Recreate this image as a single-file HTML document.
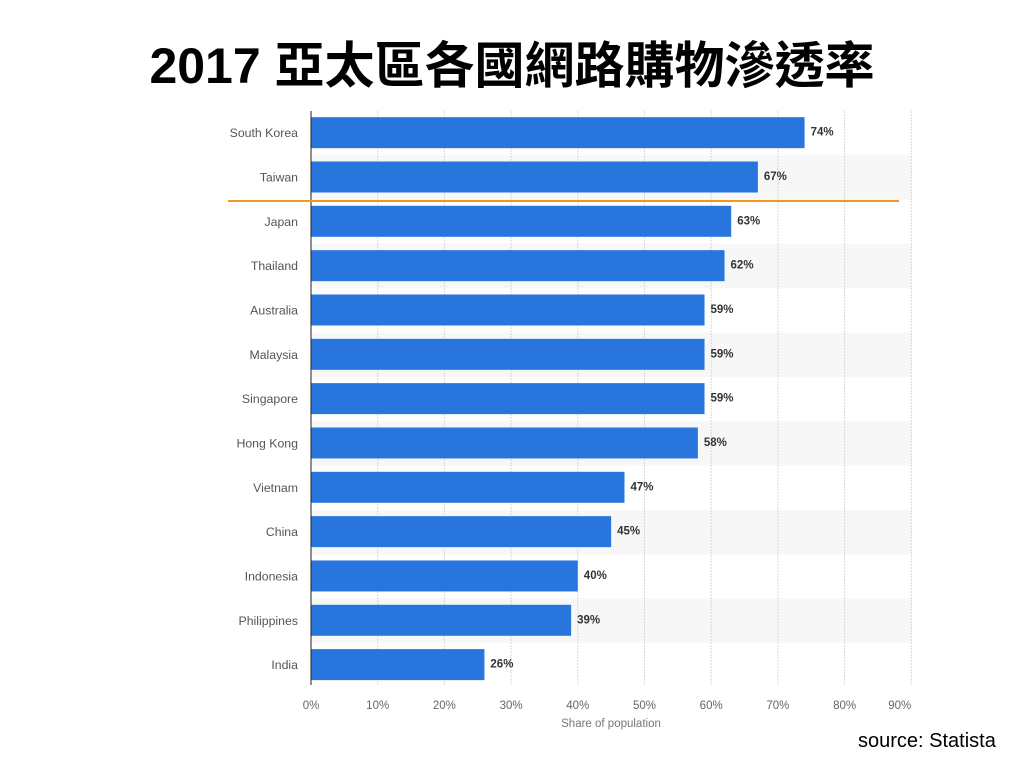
<!DOCTYPE html>
<html><head><meta charset="utf-8"><style>
body{margin:0;background:#fff;width:1024px;height:768px;overflow:hidden;font-family:"Liberation Sans","Noto Sans CJK TC",sans-serif}
#title{position:absolute;top:36px;left:0;width:1024px;text-align:center;font-size:50px;font-weight:bold;color:#000;line-height:60px}
#src{position:absolute;left:858px;top:730px;font-size:20px;color:#000}
</style></head><body>
<div id="title">2017 亞太區各國網路購物滲透率</div>
<svg id="chart" width="1024" height="768" style="position:absolute;left:0;top:0"></svg>
<div id="src">source: Statista</div>
<script>
const categories=["South Korea","Taiwan","Japan","Thailand","Australia","Malaysia","Singapore","Hong Kong","Vietnam","China","Indonesia","Philippines","India"];
const values=[74,67,63,62,59,59,59,58,47,45,40,39,26];
const ticks=[0,10,20,30,40,50,60,70,80,90];
const NS="http://www.w3.org/2000/svg";
const svg=document.getElementById('chart');
const x0=311,xs=6.67,top0=111,rowH=44.33,barH=31;
const x=v=>x0+v*xs;
const yRow=i=>top0+i*rowH;
function mk(t,a){const e=document.createElementNS(NS,t);for(const k in a)e.setAttribute(k,a[k]);svg.appendChild(e);return e;}
const font='"Liberation Sans","DejaVu Sans",sans-serif';
categories.forEach((c,i)=>{if(i%2==1){const r=mk('rect',{x:x0,y:yRow(i),width:x(90)-x0+1,height:rowH,fill:'#f7f7f7'});

}});
ticks.forEach(t=>{if(t>0){const l=mk('line',{x1:x(t),x2:x(t),y1:top0,y2:685,stroke:'#d8d8d8','stroke-dasharray':'2,1'});

}
const tx=mk('text',{x:x(t),y:709,'font-size':11.5,fill:'#666','font-family':font,'text-anchor':t==90?'end':'middle'});
tx.textContent=t+'%';

});
categories.forEach((c,i)=>{const cy=yRow(i)+rowH/2-0.5;
const b=mk('rect',{x:x0,y:cy-barH/2,width:x(values[i])-x0,height:barH,fill:'#2876dd'});


const lb=mk('text',{x:298,y:cy+4.5,'font-size':12.3,fill:'#555','font-family':font,'text-anchor':'end'});
lb.textContent=c;


const vl=mk('text',{x:x(values[i])+6,y:cy+3,'font-size':11.5,fill:'#333','font-family':font,'font-weight':'bold'});
vl.textContent=values[i]+'%';

});
const ax=mk('line',{x1:x0,x2:x0,y1:top0,y2:685,stroke:'#222','stroke-width':1});


const ol=mk('line',{x1:228,x2:899,y1:201,y2:201,stroke:'#f0991c','stroke-width':2});


const xt=mk('text',{x:611,y:727,'font-size':11.5,fill:'#777','font-family':font,'text-anchor':'middle'});
xt.textContent='Share of population';


</script>
</body></html>
